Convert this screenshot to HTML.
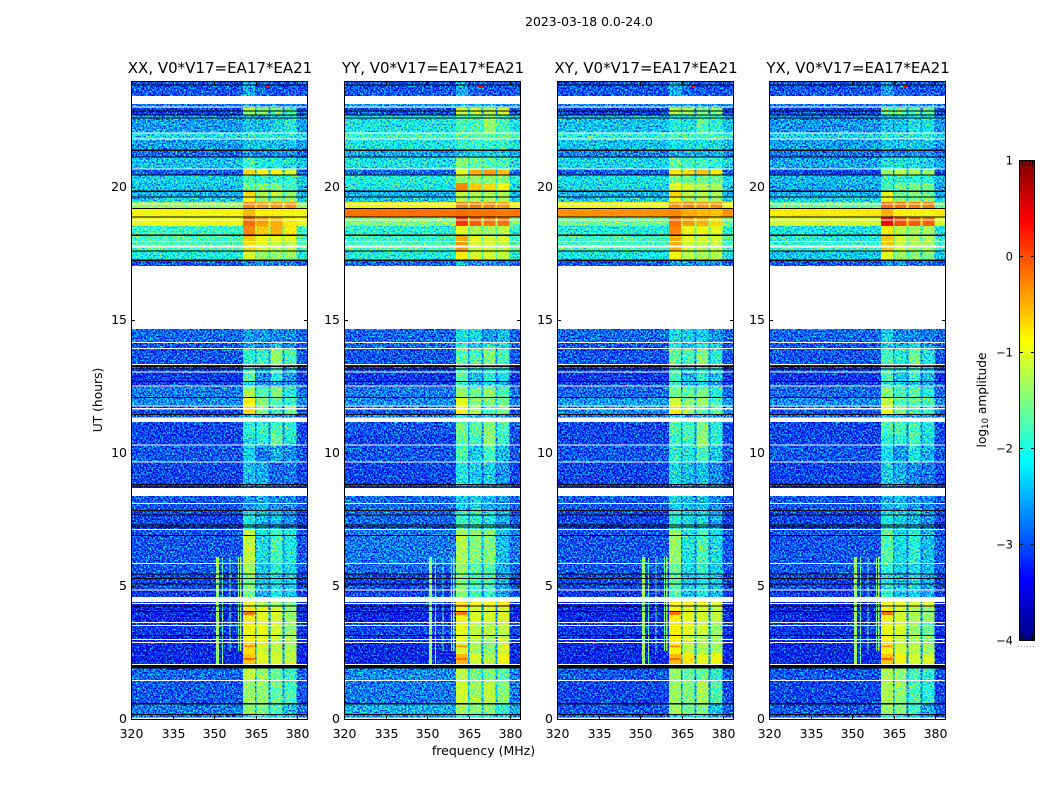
<!DOCTYPE html>
<html lang="en">
<head>
<meta charset="utf-8">
<title>2023-03-18 0.0-24.0</title>
<style>
html,body{margin:0;padding:0;background:#fff;width:1050px;height:800px;overflow:hidden}
svg{display:block}
text{font-family:"DejaVu Sans","Liberation Sans",sans-serif;fill:#000}
</style>
</head>
<body>
<svg id="figure" xmlns="http://www.w3.org/2000/svg" width="1050" height="800" viewBox="0 0 1050 800">
<defs id="figure-defs"></defs>
<text x="589" y="26" font-size="12.4" text-anchor="middle">2023-03-18 0.0-24.0</text>
<text transform="translate(102,400) rotate(-90)" font-size="12.3" text-anchor="middle">UT (hours)</text>
<text x="483.500" y="755" font-size="12.5" text-anchor="middle">frequency (MHz)</text>
<text transform="translate(986,400) rotate(-90)" font-size="12.2" text-anchor="middle">log<tspan font-size="8.500" dy="2">10</tspan><tspan dy="-2"> amplitude</tspan></text>
</svg>
<script>
// ---- chart data (hours UT, MHz, log10 amplitude) ----
const panelTitles = ['XX, V0*V17=EA17*EA21','YY, V0*V17=EA17*EA21','XY, V0*V17=EA17*EA21','YX, V0*V17=EA17*EA21'];
const xTickLabels = [320,335,350,365,380];
const yTickLabels = [0,5,10,15,20];
const colorbarTickLabels = [1,0,-1,-2,-3,-4];
const subbandStartMHz = [360.4,365.3,370.3,375.5];
const subbandEndMHz = [364.8,369.7,374.7,379.7];

const utRows = [[24,23.43],[23.13,22.98],[22.98,22.70],[22.70,22.04],[22.04,21.80],[21.80,21.40],[21.40,21.14],[21.14,20.69],
[20.69,20.47],[20.47,20.17],[20.17,19.86],[19.86,19.64],[19.64,19.45],[19.45,19.21],[19.21,18.89],[18.89,18.55],
[18.55,18.21],[18.21,17.99],[17.99,17.61],[17.61,17.27],[17.27,17.05],[14.68,14.16],[14.16,13.93],[13.93,13.35],
[13.35,13.07],[13.07,12.71],[12.71,12.50],[12.50,12.09],[12.09,11.79],[11.79,11.47],[11.47,11.36],[11.19,10.70],
[10.70,10.33],[10.33,9.69],[9.69,8.86],[8.86,8.71],[8.41,7.89],[7.89,7.15],[7.15,5.88],[5.88,5.48],
[5.48,4.88],[4.88,4.62],[4.43,4.24],[4.24,3.68],[3.68,3.17],[3.17,2.89],[2.89,2.48],[2.48,2.07],
[1.95,1.46],[1.46,0.64],[0.64,0.23],[0.23,0.09]];

// each row: background, then the four sub-band levels
const levelsXX = [[-3.0,-2.5,-2.9,-3.0,-3.0],[-2.8,-2.6,-2.7,-2.7,-2.7],[-3.1,-1.3,-1.5,-1.6,-1.8],[-2.6,-2.35,-2.45,-2.25,-2.05],
[-2.2,-2.05,-2.05,-2.05,-2.05],[-2.6,-2.35,-2.35,-2.35,-2.35],[-2.9,-2.65,-2.65,-2.65,-2.65],[-2.4,-1.85,-2.05,-2.05,-2.15],
[-3.0,-0.7,-0.9,-0.9,-1.1],[-2.3,-1.85,-1.95,-1.95,-1.85],[-2.4,-1.6,-1.5,-1.5,-1.8],[-2.5,-0.7,-1.3,-1.2,-1.4],
[-2.3,-0.9,-1.4,-1.4,-1.4],[-1.4,-0.3,-0.4,-0.4,-0.4],[-0.9,-0.55,-0.85,-0.85,-0.9],[-0.95,-0.15,-0.4,-0.5,-0.8],
[-1.9,-0.3,-0.6,-0.5,-0.8],[-1.8,-0.6,-0.9,-1.0,-1.0],[-1.8,-0.7,-1.0,-1.2,-1.2],[-2.1,-1.1,-1.4,-1.4,-1.4],
[-3.0,-2.7,-2.7,-2.8,-2.8],[-2.9,-2.6,-2.6,-2.7,-2.7],[-3.0,-2.6,-2.8,-2.4,-2.7],[-3.0,-2.0,-1.9,-1.4,-1.8],
[-3.1,-1.9,-2.4,-1.9,-2.4],[-3.2,-1.7,-2.7,-2.0,-2.6],[-3.1,-2.2,-2.6,-2.5,-2.7],[-2.8,-1.3,-1.7,-1.5,-2.0],
[-2.7,-0.9,-1.5,-1.7,-1.9],[-3.1,-0.7,-1.5,-2.1,-1.6],[-2.9,-2.4,-2.7,-2.6,-2.7],[-3.1,-2.0,-1.9,-1.8,-2.0],
[-3.1,-2.2,-2.0,-1.6,-2.1],[-3.0,-2.3,-2.8,-2.5,-2.7],[-3.1,-2.4,-2.5,-2.9,-2.8],[-3.2,-2.8,-2.8,-2.9,-2.9],
[-3.0,-2.6,-2.5,-2.7,-2.7],[-3.1,-2.1,-2.4,-2.4,-2.6],[-3.0,-1.2,-2.2,-1.8,-2.1],[-3.0,-1.3,-2.3,-2.0,-2.2],
[-3.1,-1.5,-2.4,-2.1,-2.3],[-3.2,-1.6,-2.5,-2.1,-2.4],[-3.3,-1.0,-1.3,-1.4,-1.6],[-3.3,-0.85,-1.0,-1.1,-1.4],
[-3.2,-0.9,-1.0,-1.1,-1.4],[-3.3,-0.85,-1.0,-1.2,-1.3],[-3.3,-0.75,-1.1,-1.2,-1.3],[-3.3,-0.6,-1.0,-1.1,-1.2],
[-2.9,-1.2,-1.4,-1.6,-1.9],[-3.0,-1.4,-1.4,-1.6,-1.8],[-2.8,-1.5,-1.5,-1.7,-2.4],[-2.9,-2.2,-2.2,-2.3,-2.5]];

const levelsYY = [[-3.0,-2.5,-2.9,-3.0,-3.0],[-2.6,-2.5,-2.5,-2.5,-2.6],[-3.0,-1.1,-1.2,-1.3,-1.1],[-2.15,-1.8,-1.8,-1.4,-1.8],
[-1.9,-1.7,-1.7,-1.7,-1.7],[-2.15,-1.9,-1.9,-1.9,-1.9],[-2.55,-2.3,-2.3,-2.3,-2.3],[-2.15,-1.5,-1.6,-1.7,-1.8],
[-2.9,-1.0,-0.5,-0.4,-0.6],[-2.05,-1.4,-1.4,-1.4,-1.5],[-2.15,-0.3,-0.6,-0.7,-0.9],[-2.5,-1.2,-1.3,-1.3,-1.3],
[-2.35,-1.3,-1.3,-1.3,-1.4],[-0.9,-0.25,-0.25,-0.3,-0.4],[-0.2,-0.15,-0.2,-0.2,-0.25],[-1.5,0.1,-0.1,-0.2,-0.2],
[-2.0,-1.0,-1.3,-1.3,-1.2],[-1.9,-0.5,-1.0,-1.1,-1.1],[-1.8,-0.4,-1.1,-1.1,-1.2],[-2.05,-0.8,-1.1,-1.1,-1.2],
[-2.9,-2.5,-2.6,-2.6,-2.7],[-2.9,-2.2,-2.2,-2.6,-2.4],[-2.9,-2.0,-2.3,-2.0,-2.2],[-3.0,-1.7,-1.8,-1.5,-1.8],
[-3.1,-1.8,-2.1,-2.0,-2.2],[-3.2,-1.7,-2.4,-2.0,-2.2],[-3.1,-2.0,-2.4,-2.3,-2.5],[-2.8,-1.4,-1.6,-1.4,-1.8],
[-2.7,-1.0,-1.5,-1.5,-1.6],[-3.0,-0.9,-1.4,-1.8,-1.6],[-2.8,-2.2,-2.5,-2.4,-2.6],[-3.0,-1.6,-1.7,-1.5,-1.8],
[-3.1,-1.7,-1.8,-1.4,-1.9],[-3.0,-1.8,-2.3,-1.8,-2.4],[-3.1,-2.1,-2.3,-2.3,-2.6],[-3.1,-2.6,-2.6,-2.7,-2.8],
[-2.9,-2.3,-2.3,-2.5,-2.6],[-2.9,-1.9,-2.0,-2.1,-2.5],[-2.8,-1.3,-1.5,-1.5,-2.4],[-2.9,-1.4,-1.7,-1.7,-2.5],
[-3.1,-1.5,-1.8,-1.8,-2.5],[-3.1,-1.5,-1.9,-2.0,-2.6],[-3.2,-0.6,-0.9,-0.9,-0.7],[-3.3,-0.9,-1.1,-1.1,-1.1],
[-3.1,-1.0,-1.2,-1.2,-1.2],[-3.2,-1.0,-1.2,-1.3,-1.2],[-3.3,-1.05,-1.3,-1.5,-1.1],[-3.3,-0.55,-1.1,-1.3,-0.9],
[-2.7,-1.2,-1.6,-1.5,-1.7],[-2.8,-1.1,-1.4,-1.2,-1.5],[-2.5,-1.4,-1.5,-1.5,-2.0],[-2.7,-2.0,-2.0,-2.1,-2.3]];

const levelsXY = [[-3.0,-2.5,-2.9,-3.0,-3.0],[-2.7,-2.6,-2.6,-2.6,-2.7],[-3.1,-1.3,-1.3,-1.5,-1.5],[-2.4,-2.05,-2.15,-1.75,-1.95],
[-2.0,-1.85,-1.85,-1.85,-1.85],[-2.4,-2.15,-2.15,-2.15,-2.15],[-2.75,-2.45,-2.45,-2.45,-2.45],[-2.25,-1.65,-1.85,-1.85,-1.95],
[-3.0,-0.8,-0.7,-0.6,-0.8],[-2.2,-1.5,-1.6,-1.6,-1.6],[-2.25,-1.0,-1.1,-1.2,-1.3],[-2.5,-0.7,-1.2,-1.2,-1.3],
[-2.3,-0.9,-1.3,-1.2,-1.3],[-0.95,-0.35,-0.3,-0.35,-0.35],[-0.35,-0.3,-0.5,-0.55,-0.6],[-1.6,-0.2,-0.4,-0.5,-0.7],
[-2.05,-0.3,-0.9,-0.9,-1.0],[-1.85,-0.5,-1.0,-1.1,-1.1],[-1.85,-0.5,-1.1,-1.2,-1.2],[-2.15,-0.9,-1.2,-1.3,-1.3],
[-3.0,-2.6,-2.6,-2.7,-2.7],[-2.9,-2.2,-2.3,-2.3,-2.6],[-3.0,-2.1,-2.4,-2.1,-2.3],[-3.0,-1.7,-1.8,-1.5,-2.0],
[-3.1,-1.8,-2.2,-1.9,-2.2],[-3.2,-1.8,-2.4,-2.0,-2.3],[-3.1,-2.0,-2.4,-2.3,-2.5],[-2.9,-1.6,-1.6,-1.5,-2.0],
[-2.6,-1.1,-1.5,-1.4,-1.8],[-2.7,-0.8,-1.4,-1.7,-1.8],[-2.8,-2.3,-2.6,-2.5,-2.7],[-3.1,-1.8,-1.8,-1.5,-2.0],
[-3.1,-1.9,-1.9,-1.4,-2.0],[-3.0,-2.0,-2.1,-1.8,-2.3],[-3.1,-2.2,-2.4,-2.4,-2.7],[-3.1,-2.7,-2.7,-2.7,-2.8],
[-3.0,-2.3,-2.4,-2.4,-2.7],[-3.1,-2.0,-2.2,-2.2,-2.5],[-3.0,-1.4,-2.1,-1.8,-2.2],[-3.0,-1.6,-2.2,-1.9,-2.3],
[-3.1,-1.7,-2.3,-2.1,-2.3],[-3.2,-1.7,-2.4,-2.1,-2.4],[-3.3,-0.8,-0.9,-1.0,-1.1],[-3.3,-0.85,-1.0,-1.1,-1.2],
[-3.2,-0.85,-1.0,-1.1,-1.4],[-3.3,-0.85,-1.2,-1.3,-1.4],[-3.3,-0.85,-1.2,-1.3,-1.3],[-3.3,-0.55,-0.8,-1.0,-0.9],
[-3.0,-1.4,-1.6,-1.6,-2.0],[-3.1,-1.4,-1.5,-1.3,-1.8],[-3.0,-1.4,-1.6,-1.5,-2.3],[-3.0,-2.2,-2.2,-2.3,-2.6]];

const levelsYX = [[-3.0,-2.6,-2.9,-3.0,-3.0],[-2.8,-2.6,-2.7,-2.7,-2.7],[-3.1,-1.5,-1.5,-1.7,-1.7],[-2.65,-2.35,-2.35,-2.15,-2.15],
[-2.3,-2.05,-2.05,-2.05,-2.05],[-2.6,-2.35,-2.35,-2.35,-2.35],[-2.85,-2.55,-2.65,-2.65,-2.65],[-2.55,-2.05,-2.15,-2.15,-2.25],
[-3.1,-1.4,-1.2,-1.3,-1.4],[-2.45,-1.95,-1.95,-1.95,-1.95],[-2.55,-1.8,-1.6,-1.5,-1.6],[-2.5,-0.9,-1.6,-1.5,-1.6],
[-2.3,-1.0,-1.5,-1.5,-1.5],[-1.6,-0.15,-0.2,-0.25,-0.25],[-0.8,-0.5,-0.85,-0.85,-0.9],[-1.1,0.35,0.0,-0.1,-0.1],
[-2.15,-0.85,-1.2,-1.3,-1.3],[-2.05,-0.6,-1.1,-1.3,-1.3],[-1.95,-0.6,-1.2,-1.3,-1.3],[-2.35,-1.0,-1.4,-1.5,-1.5],
[-3.0,-2.7,-2.7,-2.8,-2.8],[-2.9,-2.3,-2.7,-2.7,-2.8],[-3.0,-2.3,-2.5,-2.2,-2.6],[-3.0,-1.8,-2.0,-1.6,-2.1],
[-3.1,-1.9,-2.1,-1.9,-2.3],[-3.2,-1.8,-2.4,-1.9,-2.4],[-3.1,-2.0,-2.4,-2.4,-2.6],[-2.9,-1.5,-1.8,-1.7,-2.0],
[-2.7,-1.2,-1.7,-1.7,-1.8],[-3.0,-1.0,-1.6,-2.0,-1.9],[-2.9,-2.4,-2.6,-2.6,-2.7],[-3.1,-1.8,-1.8,-1.8,-2.1],
[-3.1,-2.0,-2.0,-1.8,-2.2],[-3.0,-2.2,-2.6,-2.1,-2.5],[-3.1,-2.3,-2.5,-2.7,-2.8],[-3.2,-2.7,-2.7,-2.8,-2.9],
[-3.0,-2.5,-2.4,-2.6,-2.7],[-3.1,-2.1,-2.3,-2.4,-2.6],[-3.0,-1.7,-2.2,-2.0,-2.4],[-3.0,-1.9,-2.3,-2.2,-2.4],
[-3.1,-2.1,-2.4,-2.2,-2.5],[-3.2,-1.9,-2.4,-2.3,-2.5],[-3.3,-0.9,-1.0,-1.1,-1.1],[-3.3,-0.9,-1.1,-1.3,-1.4],
[-3.2,-1.0,-1.1,-1.4,-1.6],[-3.3,-0.9,-1.2,-1.3,-1.5],[-3.3,-0.9,-1.1,-1.2,-1.4],[-3.3,-0.6,-0.9,-1.1,-1.1],
[-3.0,-1.3,-1.4,-1.8,-2.0],[-3.1,-1.3,-1.4,-1.8,-2.0],[-3.0,-1.4,-1.5,-1.9,-2.5],[-3.0,-2.1,-2.2,-2.4,-2.6]];

const panelLevels = [levelsXX,levelsYY,levelsXY,levelsYX];

// white rows: flagged data [from hour, to hour]
const flaggedSpans = [[23.43,23.13],[17.05,14.68],[11.36,11.19],[8.71,8.41],[4.62,4.43],[0.09,0],[17.82,17.74],[23.05,23.00],
[22.06,22.02],[21.84,21.80],[20.71,20.67],[19.40,19.36],[18.80,18.76],[18.00,17.96],[14.20,14.16],[13.97,13.93],
[13.37,13.33],[13.09,13.05],[12.56,12.52],[11.81,11.77],[11.71,11.67],[10.35,10.31],[9.71,9.67],[8.15,8.11],
[7.17,7.13],[5.90,5.86],[4.90,4.86],[4.39,4.35],[3.68,3.64],[3.57,3.53],[3.04,3.00],[2.93,2.89],[2.10,2.06],[1.50,1.46]];

// black rows: dead integrations, hour of each row
const deadRows = [23.85,22.87,22.72,22.61,21.40,21.14,20.47,19.86,19.64,19.21,18.89,18.21,17.61,17.27,13.29,13.18,12.71,12.11,
11.47,8.84,8.75,7.87,7.70,7.32,7.25,6.93,5.48,5.31,5.11,4.28,4.07,3.17,2.04,2.00,1.96,0.61,0.21];

// narrow interference: MHz from, MHz to, hour from, hour to, level
const rfiLines = [[350.7,351.7,2.1,6.12,-1.4],[352.8,353.3,2.1,6.1,-1.7],[355.6,356.0,2.6,6.1,-1.7],[358.6,359.0,2.6,6.12,-1.6],[359.4,359.9,2.6,6.15,-1.4]];
// bright short bursts in the sub-bands
const bursts = [[368.4,370.2,23.78,23.86,0.4],[360.6,364.6,3.95,4.05,-0.2],[360.6,364.6,2.25,2.33,-0.15],[360.6,364.6,2.75,2.8,-0.3]];

const vmin = -4;
const vmax = 1;

// ---- scales ----
const SVGNS = 'http://www.w3.org/2000/svg';
const figure = document.getElementById('figure');
const figureDefs = document.getElementById('figure-defs');
const panelLeft = [131,344,557,769];
const panelWidth = 177;
const plotTop = 81;
const plotBottom = 720;
const hourMax = 24;
const freqMin = 320;
const freqMax = 383.9;
const xScale = (mhz, p) => panelLeft[p] + (mhz - freqMin) / (freqMax - freqMin) * panelWidth;
const yScale = (h) => plotBottom - h / hourMax * (plotBottom - plotTop);
const clamp01 = (t) => Math.max(0, Math.min(1, t));
const jetR = (t) => clamp01(Math.min(4*t - 1.5, -4*t + 4.5));
const jetG = (t) => clamp01(Math.min(4*t - 0.5, -4*t + 3.5));
const jetB = (t) => clamp01(Math.min(4*t + 0.5, -4*t + 2.5));
const norm = (v) => clamp01((v - vmin) / (vmax - vmin));
function jet(v){
  const t = norm(v);
  return 'rgb(' + Math.round(jetR(t)*255) + ',' + Math.round(jetG(t)*255) + ',' + Math.round(jetB(t)*255) + ')';
}
// heatmap marks carry the normalised value as grey; the filter adds receiver noise and applies the colormap
function valueFill(v){
  const g = Math.round(norm(v) * 255);
  return 'rgb(' + g + ',' + g + ',' + g + ')';
}
function make(tag, attrs, parent){
  const node = document.createElementNS(SVGNS, tag);
  for (const k in attrs) node.setAttribute(k, attrs[k]);
  parent.appendChild(node);
  return node;
}
function box(parent, x0, x1, y0, y1, fill){
  return make('rect', {x:x0, y:y0, width:Math.max(x1-x0,0), height:Math.max(y1-y0,0), fill:fill, 'shape-rendering':'crispEdges'}, parent);
}

// ---- colormap + noise filter ----
(function(){
  const f = make('filter', {id:'heatmap-colormap', x:0, y:0, width:1, height:1, 'color-interpolation-filters':'sRGB'}, figureDefs);
  make('feTurbulence', {type:'fractalNoise', baseFrequency:'0.58', numOctaves:2, seed:7, result:'raw'}, f);
  make('feColorMatrix', {in:'raw', type:'matrix', values:'0.75 0 0 0 0.125  0.75 0 0 0 0.125  0.75 0 0 0 0.125  0 0 0 0 1', result:'noise'}, f);
  const w = make('feComponentTransfer', {in:'SourceGraphic', result:'weight'}, f);
  const noiseWeight = '1 1 1 0.95 0.85 0.6 0.3 0.15 0.08 0.04 0';
  ['feFuncR','feFuncG','feFuncB'].forEach(function(fn){ make(fn, {type:'table', tableValues:noiseWeight}, w); });
  make('feComposite', {in:'weight', in2:'noise', operator:'arithmetic', k1:1, k2:-0.5, k3:0, k4:0.5, result:'offset'}, f);
  make('feComposite', {in:'SourceGraphic', in2:'offset', operator:'arithmetic', k1:0, k2:1, k3:1, k4:-0.5, result:'noisy'}, f);
  const c = make('feComponentTransfer', {in:'noisy'}, f);
  const tableOf = function(fn){ const out = []; for (let i = 0; i <= 64; i++) out.push(fn(i/64).toFixed(3)); return out.join(' '); };
  make('feFuncR', {type:'table', tableValues:tableOf(jetR)}, c);
  make('feFuncG', {type:'table', tableValues:tableOf(jetG)}, c);
  make('feFuncB', {type:'table', tableValues:tableOf(jetB)}, c);
  make('feFuncA', {type:'linear', slope:1, intercept:0}, c);
})();

// ---- panels ----
panelTitles.forEach(function(title, p){
  const levels = panelLevels[p];
  const g = make('g', {}, figure);
  
  
  const x0 = xScale(freqMin, p), x1 = xScale(freqMax, p);

  const heat = make('g', {filter:'url(#heatmap-colormap)'}, g);
  
  
  const base = box(heat, x0, x1, plotTop, plotBottom, valueFill(-3));
  
  

  // background of every time row
  utRows.forEach(function(row, i){
    const c = box(heat, x0, x1, yScale(row[0]), yScale(row[1]), valueFill(levels[i][0]));
    
    
  });

  // sub-bands and the dips between them
  utRows.forEach(function(row, i){
    const yA = yScale(row[0]), yB = yScale(row[1]);
    subbandStartMHz.forEach(function(fs, b){
      const c = box(heat, xScale(fs,p), xScale(subbandEndMHz[b],p), yA, yB, valueFill(levels[i][b+1]));
      
      
      if (b < 3){
        const edge = levels[i][0] + 0.3 * ((levels[i][b+1] + levels[i][b+2]) / 2 - levels[i][0]);
        const d = box(heat, xScale(subbandEndMHz[b],p), xScale(subbandStartMHz[b+1],p), yA, yB, valueFill(edge));
        
        
      }
    });
  });

  // interference and bursts
  rfiLines.forEach(function(l){
    const c = box(heat, xScale(l[0],p), xScale(l[1],p), yScale(l[3]), yScale(l[2]), valueFill(l[4]));
    
    
  });
  bursts.forEach(function(l){
    const c = box(heat, xScale(l[0],p), xScale(l[1],p), yScale(l[3]), yScale(l[2]), valueFill(l[4]));
    
    
  });

  // flagged and dead rows
  flaggedSpans.forEach(function(s){
    const c = box(g, x0, x1, yScale(s[0]), yScale(s[1]), '#fff');
    
    
  });
  deadRows.forEach(function(h){
    const c = box(g, x0, x1, yScale(h) - 0.6, yScale(h) + 0.6, '#000');
    
    
  });

  // frame
  const frame = make('rect', {x:x0+0.5, y:plotTop+0.5, width:panelWidth-1, height:plotBottom-plotTop-1, fill:'none', stroke:'#000', 'stroke-width':1, 'shape-rendering':'crispEdges'}, g);
  
  

  // x ticks
  xTickLabels.forEach(function(v){
    const x = Math.round(xScale(v,p)) + 0.5;
    const tb = make('path', {d:'M'+x+' '+plotBottom+'v-4M'+x+' '+plotTop+'v4', stroke:'#000', 'stroke-width':1, 'shape-rendering':'crispEdges', fill:'none'}, g);
    
    
    const t = make('text', {x:x, y:plotBottom+18, 'font-size':12.5, 'text-anchor':'middle'}, g);
    t.textContent = String(v);
    
    
  });
  // y ticks
  yTickLabels.forEach(function(v){
    const y = Math.round(yScale(v)) - 0.5;
    const tb = make('path', {d:'M'+x0+' '+y+'h4M'+x1+' '+y+'h-4', stroke:'#000', 'stroke-width':1, 'shape-rendering':'crispEdges', fill:'none'}, g);
    
    
    const t = make('text', {x:x0-4, y:y+3.5, 'font-size':12.5, 'text-anchor':'end'}, g);
    t.textContent = String(v);
    
    
  });
  // title
  const tt = make('text', {x:(x0+x1)/2+0.5, y:plotTop-8, 'font-size':15, 'text-anchor':'middle'}, g);
  tt.textContent = title;
  
  
});

// ---- colorbar ----
const cbLeft = 1019, cbRight = 1035, cbTop = 160, cbBottom = 640;
const cbY = (v) => cbBottom - (v - vmin) / (vmax - vmin) * (cbBottom - cbTop);
const cb = make('g', {}, figure);


for (let k = 0; k < 240; k++){
  const vA = vmin + (vmax - vmin) * k / 240;
  const vB = vmin + (vmax - vmin) * (k + 1) / 240;
  const s = box(cb, cbLeft, cbRight, cbY(vB), cbY(vA) + 0.5, jet((vA + vB) / 2));
  
  
}
const cbFrame = make('rect', {x:cbLeft+0.5, y:cbTop+0.5, width:cbRight-cbLeft-1, height:cbBottom-cbTop, fill:'none', stroke:'#000', 'stroke-width':1, 'shape-rendering':'crispEdges'}, cb);


colorbarTickLabels.forEach(function(v){
  const y = Math.round(cbY(v)) + 0.5;
  const tick = make('path', {d:'M'+cbLeft+' '+y+'h4M'+cbRight+' '+y+'h-4', stroke:'#000', 'stroke-width':1, 'shape-rendering':'crispEdges', fill:'none'}, cb);
  
  
  const t = make('text', {x:cbLeft-6, y:y+4, 'font-size':11.5, 'text-anchor':'end'}, cb);
  t.textContent = v < 0 ? '\u2212' + Math.abs(v) : String(v);
  
  
});
[0.2,0.4,0.6,0.8].forEach(function(frac){
  const x = Math.round(cbLeft + frac * (cbRight - cbLeft)) + 0.5;
  const m = make('path', {d:'M'+x+' '+cbTop+'v5M'+x+' '+cbBottom+'v-5', stroke:'#000', 'stroke-width':1, 'shape-rendering':'crispEdges', fill:'none'}, cb);
  
  
});
const cbDots = make('path', {d:'M1018 646.500h16', stroke:'#999', 'stroke-width':1, 'stroke-dasharray':'1 2', fill:'none'}, cb);


</script>
</body>
</html>
